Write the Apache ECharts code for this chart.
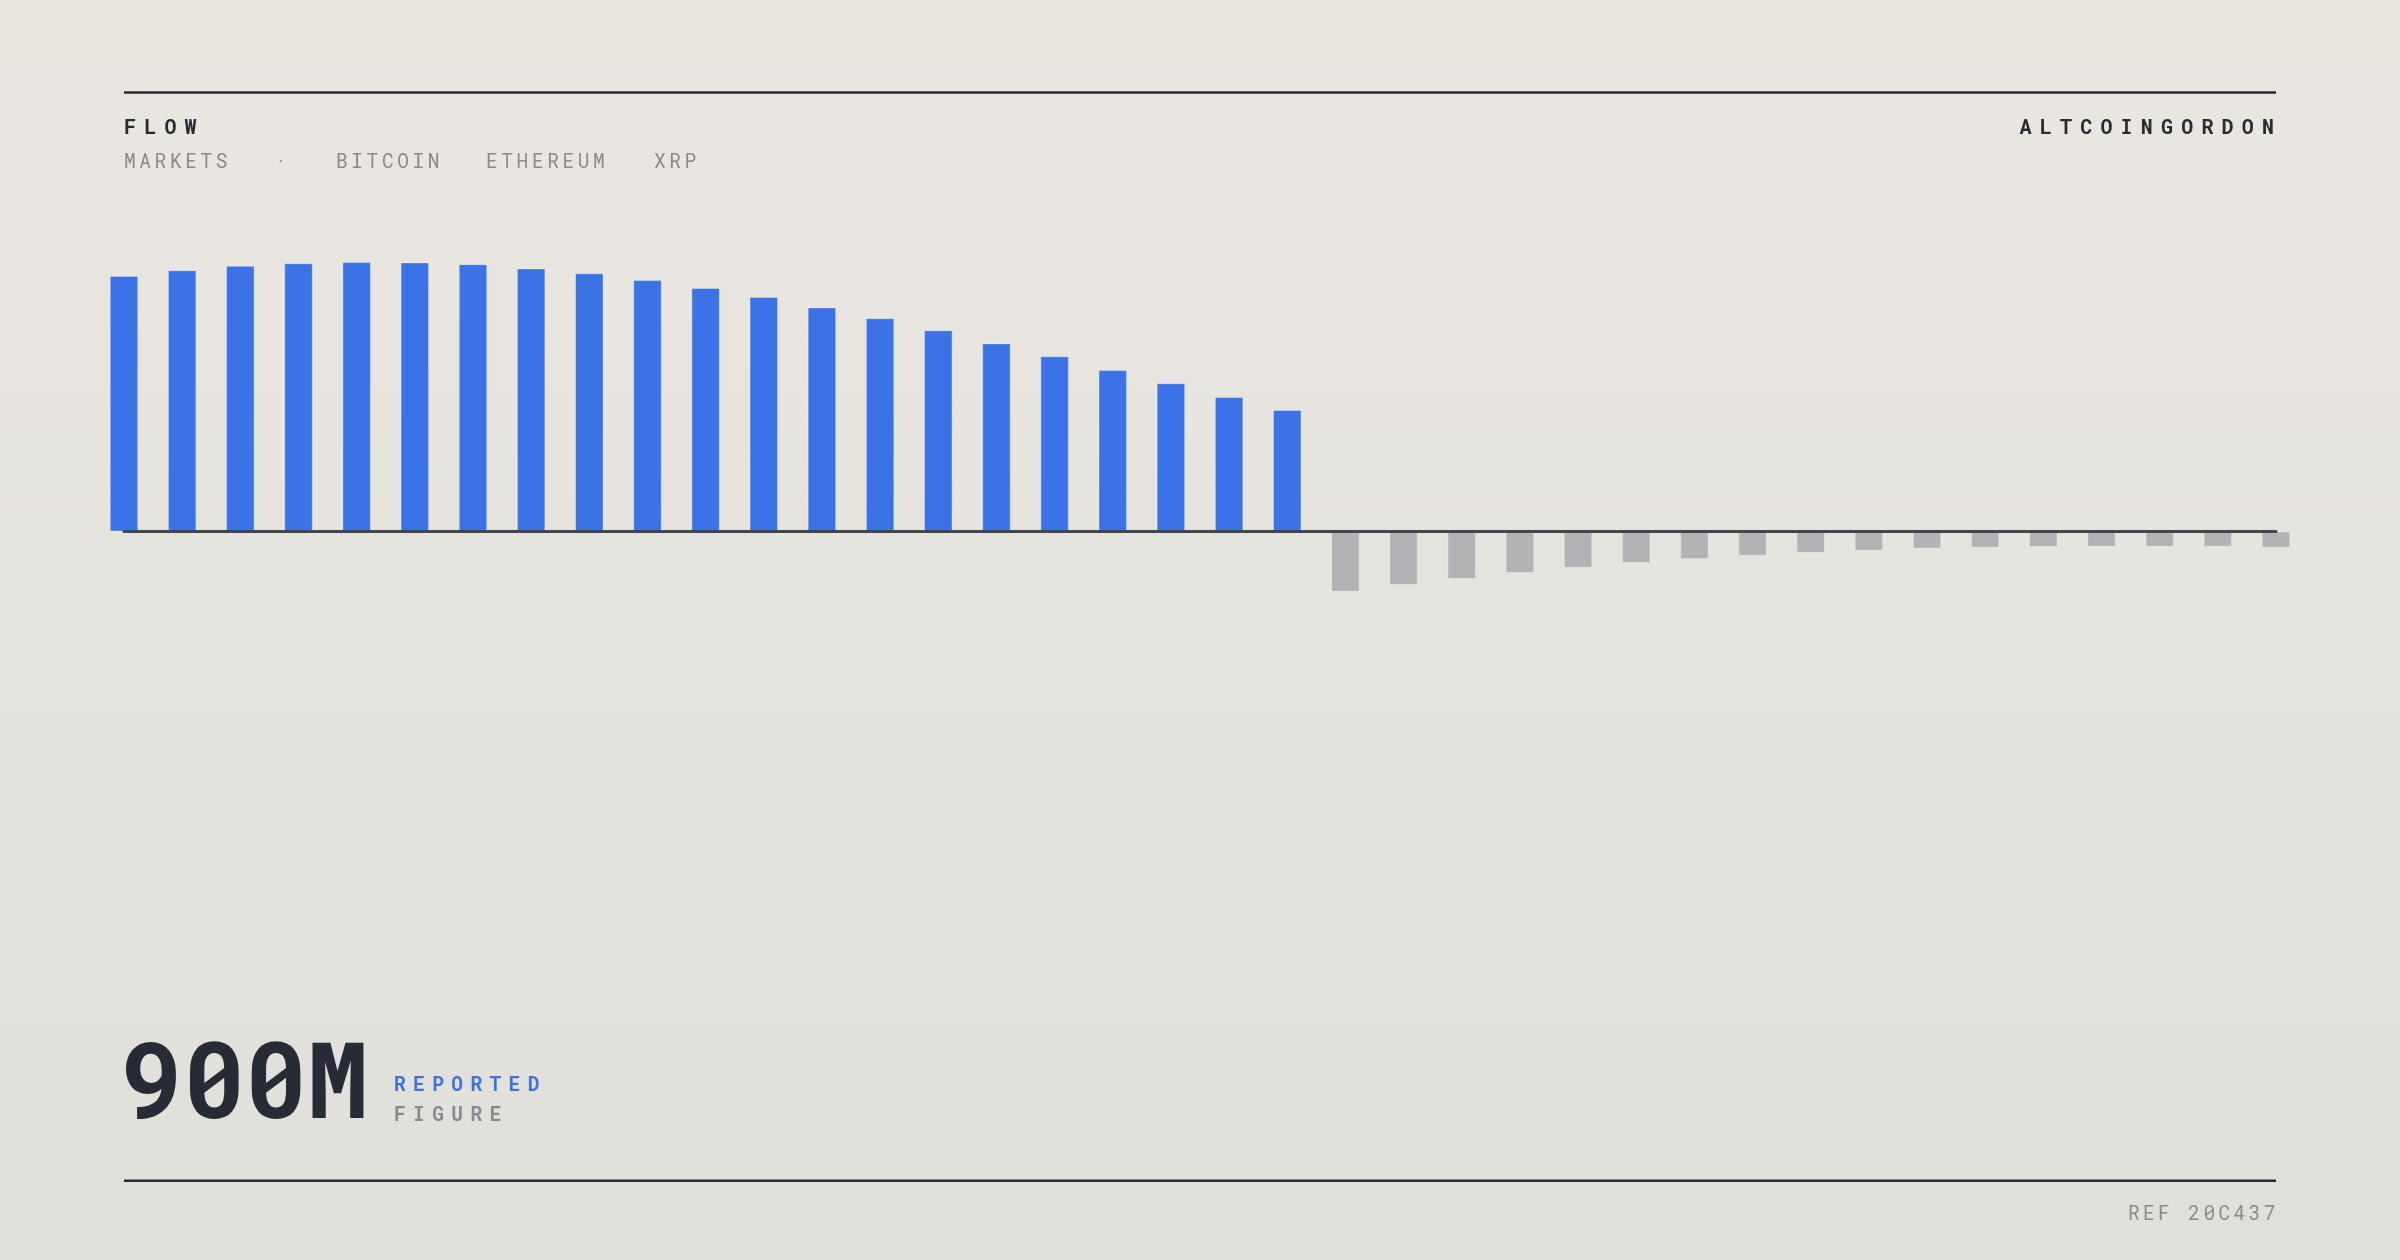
<!DOCTYPE html>
<html>
<head>
<meta charset="utf-8">
<script src="https://cdn.jsdelivr.net/npm/echarts@6/dist/echarts.min.js"></script>
<style>
html,body{margin:0;padding:0;background:#e6e4de;}
#chart{width:2400px;height:1260px;}
</style>
</head>
<body>
<div id="chart"></div>
<script>
// ---- data ----
const categories = ['01','02','03','04','05','06','07','08','09','10','11','12','13','14','15','16','17','18','19',
  '20','21','22','23','24','25','26','27','28','29','30','31','32','33','34','35','36','37','38'];
// flow values, millions (positive = inflow, negative = outflow)
const flows = [852, 871, 886, 894, 898, 897, 891, 877, 861, 838, 812, 782, 747, 711, 671, 627, 584, 538, 494, 448, 405,
  -201, -178, -158, -138, -121, -105, -92, -81, -71, -64, -57, -54, -52, -51, -51, -51, -54];
const titleText = 'FLOW';
const brandText = 'ALTCOINGORDON';
const tagTexts = ['MARKETS', '·', 'BITCOIN', 'ETHEREUM', 'XRP'];
const headlineValue = '900M';
const headlineTop = 'REPORTED';
const headlineBottom = 'FIGURE';
const refText = 'REF 20C437';

// ---- styling ----
const FONT = '"Roboto Mono", "DejaVu Sans Mono", monospace';
const DARK = '#272b35';
const GRAY = '#898a8f';
const BLUE = '#3b73e6';
const BAR_GRAY = '#b3b3b5';

function spaced(opts) {
  const chars = Array.from(opts.text);
  const base = {fontFamily: FONT, fontSize: opts.size, fontWeight: opts.weight || 'normal', fill: opts.color};
  const rich = {
    c: Object.assign({width: opts.pitch, align: 'left'}, base),
    e: Object.assign({align: 'left'}, base)
  };
  const str = chars.map((ch, i) => (i < chars.length - 1 ? '{c|' : '{e|') + ch + '}').join('');
  return {
    type: 'text', silent: true, x: opts.x, y: opts.y, z: 100,
    style: Object.assign({text: str, rich: rich, align: opts.align || 'left', verticalAlign: 'middle'}, base)
  };
}

const tagX = [124, 275, 336, 486, 654];
const graphics = [
  {type: 'line', silent: true, shape: {x1: 124, y1: 92.5, x2: 2276, y2: 92.5}, style: {stroke: DARK, lineWidth: 2.5}},
  {type: 'line', silent: true, shape: {x1: 124, y1: 1180.7, x2: 2276, y2: 1180.7}, style: {stroke: DARK, lineWidth: 2.5}},
  spaced({text: titleText, x: 124, y: 128.5, size: 20, weight: 'bold', color: DARK, pitch: 20.2}),
  spaced({text: brandText, x: 2274, y: 128.5, size: 20, weight: 'bold', color: DARK, pitch: 20.2, align: 'right'}),
  spaced({text: headlineValue, x: 121, y: 1087, size: 105, weight: 'bold', color: DARK, pitch: 61.7}),
  spaced({text: headlineTop, x: 394, y: 1085, size: 19.5, weight: 'bold', color: BLUE, pitch: 19.1}),
  spaced({text: headlineBottom, x: 394, y: 1115, size: 19.5, weight: 'bold', color: GRAY, pitch: 19.1}),
  spaced({text: refText, x: 2275.5, y: 1214.5, size: 19.5, color: GRAY, pitch: 15.1, align: 'right'})
];
tagTexts.forEach((t, i) => {
  graphics.push(spaced({text: t, x: tagX[i], y: 162.5, size: 19.5, color: t === '·' ? '#9c9ca0' : GRAY, pitch: 15.3}));
});

const chart = echarts.init(document.getElementById('chart'), null, {renderer: 'canvas'});
chart.setOption({
  animation: false,
  backgroundColor: {
    type: 'linear', x: 0, y: 0, x2: 0, y2: 1,
    colorStops: [{offset: 0, color: '#eae7e1'}, {offset: 1, color: '#e1dfda'}]
  },
  grid: {left: 124, right: 124, top: 231.5, height: 600},
  xAxis: {
    type: 'category', data: categories, boundaryGap: false, z: 10,
    axisLine: {show: true, onZero: true, lineStyle: {color: '#43464e', width: 3}},
    axisTick: {show: false}, axisLabel: {show: false}, splitLine: {show: false}
  },
  yAxis: {
    type: 'value', min: -1000, max: 1000,
    axisLine: {show: false}, axisTick: {show: false}, axisLabel: {show: false}, splitLine: {show: false}
  },
  series: [{
    type: 'bar', data: flows, barWidth: 28.5,
    itemStyle: {
      color: p => (p.value >= 0 ? BLUE : BAR_GRAY),
      borderColor: 'rgba(255,255,255,0.35)', borderWidth: 1
    }
  }],
  graphic: graphics
});
</script>
</body>
</html>
